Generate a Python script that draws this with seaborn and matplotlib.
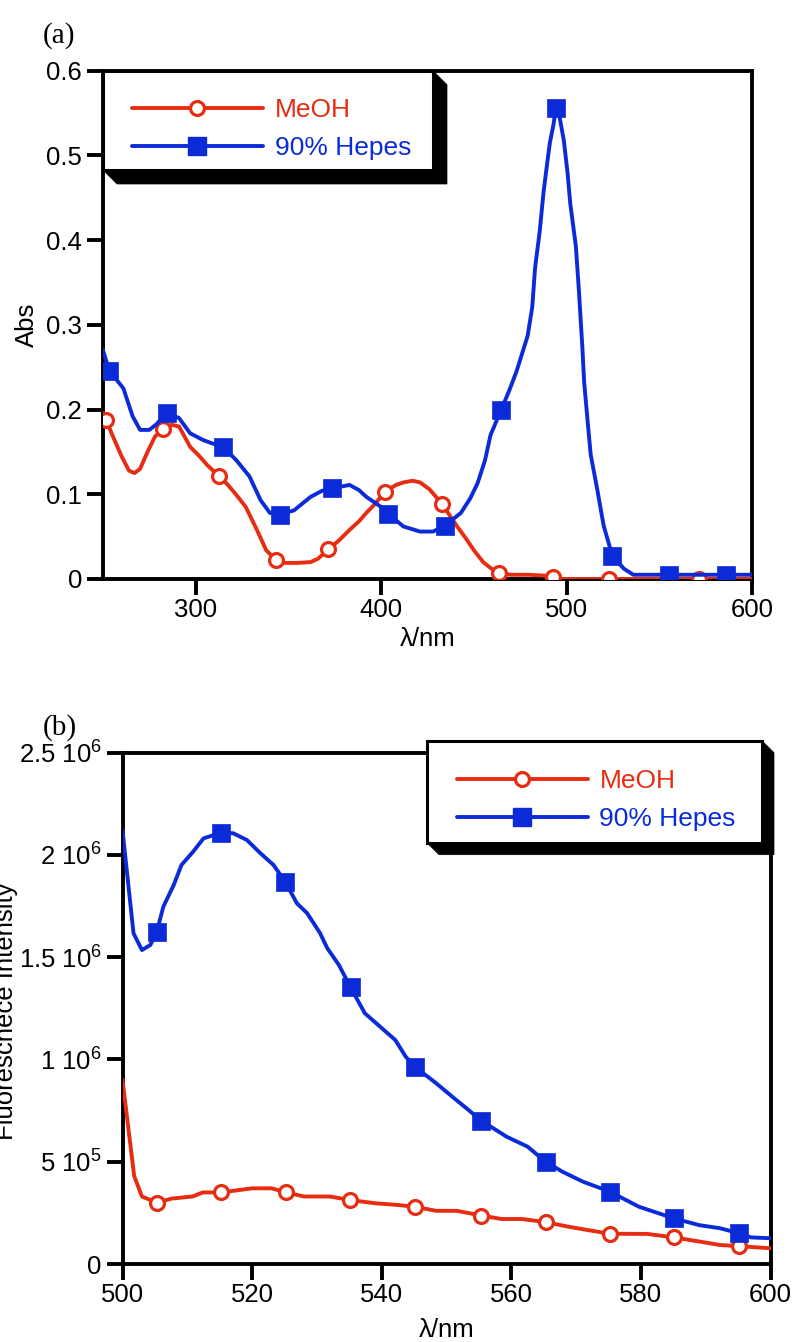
import numpy as np
import matplotlib
matplotlib.use("Agg")
import matplotlib.pyplot as plt
from matplotlib.lines import Line2D
from matplotlib.patches import Polygon, Rectangle
import seaborn as sns

# ---------------- (a) absorption spectra ----------------
abs_meoh_wl = [250.0, 251.7, 255, 260, 264, 267, 270, 274, 278, 282.2, 287, 291,
               297, 302, 306, 312.6, 317, 322, 327, 333, 338, 343.4, 348, 355,
               362, 366, 371.5, 377, 383, 388, 392, 396, 402.3, 408, 412, 417,
               421, 426, 432.8, 437, 441, 446, 450, 455, 459, 463.3, 470, 480,
               488, 492.6, 497, 510, 522.8, 540, 571.4, 600]
abs_meoh_val = [0.196, 0.188, 0.170, 0.145, 0.128, 0.125, 0.130, 0.150, 0.168,
                0.177, 0.182, 0.180, 0.156, 0.145, 0.135, 0.121, 0.112, 0.099,
                0.085, 0.058, 0.034, 0.022, 0.019, 0.019, 0.020, 0.024, 0.035,
                0.045, 0.058, 0.068, 0.078, 0.087, 0.103, 0.111, 0.114, 0.116,
                0.114, 0.106, 0.089, 0.075, 0.062, 0.047, 0.034, 0.020, 0.013,
                0.007, 0.005, 0.005, 0.004, 0.002, 0.0, 0.0, 0.0, 0.0, 0.0, 0.0]
abs_meoh_marks = [251.7, 282.2, 312.6, 343.4, 371.5, 402.3, 432.8, 463.3,
                  492.6, 522.8, 571.4]

abs_hepes_wl = [250.0, 253.5, 257, 261, 264, 266, 270, 275, 279, 284.4, 291,
                297, 304, 309, 314.7, 322, 329, 335, 340, 345.3, 353, 362, 368,
                373.3, 383, 388, 392, 400, 403.8, 412, 421, 428, 434.4, 443,
                448, 452, 456, 459, 464.8, 469, 473, 479, 481.5, 483, 485.5,
                487.5, 489.5, 491, 493, 494.2, 496, 498.5, 500.5, 502, 505,
                506.6, 508.5, 509.5, 511.2, 513, 516.6, 520, 524.7, 531, 536,
                545, 555, 570, 586, 600]
abs_hepes_val = [0.270, 0.245, 0.236, 0.225, 0.205, 0.192, 0.176, 0.176, 0.183,
                 0.196, 0.190, 0.172, 0.164, 0.160, 0.156, 0.140, 0.121, 0.093,
                 0.078, 0.076, 0.081, 0.097, 0.104, 0.107, 0.111, 0.105, 0.097,
                 0.085, 0.077, 0.062, 0.056, 0.056, 0.063, 0.078, 0.095, 0.113,
                 0.140, 0.170, 0.200, 0.222, 0.245, 0.287, 0.321, 0.367, 0.410,
                 0.455, 0.490, 0.515, 0.537, 0.556, 0.548, 0.518, 0.480, 0.443,
                 0.393, 0.342, 0.274, 0.232, 0.190, 0.147, 0.105, 0.063, 0.027,
                 0.012, 0.005, 0.005, 0.005, 0.005, 0.005, 0.005]
abs_hepes_marks = [253.5, 284.4, 314.7, 345.3, 373.3, 403.8, 434.4, 464.8,
                   494.2, 524.7, 555, 586]

abs_xticks = [300, 400, 500, 600]
abs_xticklabels = ["300", "400", "500", "600"]
abs_yticks = [0, 0.1, 0.2, 0.3, 0.4, 0.5, 0.6]
abs_yticklabels = ["0", "0.1", "0.2", "0.3", "0.4", "0.5", "0.6"]

# ---------------- (b) fluorescence spectra ----------------
fl_meoh_wl = [500.0, 501.8, 503, 505.3, 507.6, 510.8, 512.4, 515.2, 520, 523,
              525.3, 528, 532, 535.1, 539, 542, 545.1, 548.4, 551.6, 555.4,
              558.5, 561.6, 565.3, 568.7, 571.8, 575.2, 581, 585.1, 589, 592.2,
              595.1, 600]
fl_meoh_val = [0.90e6, 0.43e6, 0.33e6, 0.30e6, 0.32e6, 0.33e6, 0.35e6, 0.35e6,
               0.37e6, 0.37e6, 0.35e6, 0.33e6, 0.33e6, 0.313e6, 0.297e6,
               0.29e6, 0.28e6, 0.26e6, 0.26e6, 0.237e6, 0.22e6, 0.22e6,
               0.205e6, 0.183e6, 0.166e6, 0.148e6, 0.147e6, 0.13e6, 0.11e6,
               0.093e6, 0.087e6, 0.077e6]
fl_meoh_marks = [505.3, 515.2, 525.3, 535.1, 545.1, 555.4, 565.3, 575.2,
                 585.1, 595.1]

fl_hepes_wl = [500.0, 501.7, 503, 504.3, 505.3, 506.3, 507.9, 509.1, 510.9,
               512.5, 515.2, 517.1, 519.2, 521.3, 523.3, 525.1, 526.9, 528.5,
               530.5, 531.6, 533.4, 535.2, 537.4, 542.1, 543.7, 545.1, 548.4,
               551.5, 553.1, 555.4, 559.3, 562.5, 565.3, 567.9, 571.1, 575.2,
               579.7, 585.1, 589, 592.2, 595.2, 597, 600]
fl_hepes_val = [2.12e6, 1.617e6, 1.535e6, 1.56e6, 1.625e6, 1.747e6, 1.853e6,
                1.951e6, 2.016e6, 2.081e6, 2.109e6, 2.106e6, 2.073e6, 2.008e6,
                1.951e6, 1.87e6, 1.764e6, 1.715e6, 1.617e6, 1.544e6, 1.462e6,
                1.352e6, 1.226e6, 1.095e6, 1.014e6, 0.965e6, 0.884e6, 0.802e6,
                0.761e6, 0.70e6, 0.622e6, 0.574e6, 0.50e6, 0.451e6, 0.402e6,
                0.354e6, 0.28e6, 0.223e6, 0.19e6, 0.175e6, 0.15e6, 0.13e6,
                0.126e6]
fl_hepes_marks = [505.3, 515.2, 525.1, 535.2, 545.1, 555.4, 565.3, 575.2,
                  585.1, 595.2]

fl_xticks = [500, 520, 540, 560, 580, 600]
fl_xticklabels = ["500", "520", "540", "560", "580", "600"]
fl_yticks = [0, 5e5, 1e6, 1.5e6, 2e6, 2.5e6]
fl_yticklabels = ["0", "5 10$^{5}$", "1 10$^{6}$", "1.5 10$^{6}$",
                  "2 10$^{6}$", "2.5 10$^{6}$"]

series_labels = ["MeOH", "90% Hepes"]
RED = "#E62D12"
BLUE = "#0B2BD8"

# ---------------- style ----------------
sns.set_style("ticks", rc={"axes.edgecolor": "black", "xtick.color": "black",
                           "ytick.color": "black", "text.color": "black",
                           "axes.labelcolor": "black"})
plt.rcParams["font.family"] = ["Liberation Sans", "DejaVu Sans"]
plt.rcParams["mathtext.fontset"] = "custom"
plt.rcParams["mathtext.rm"] = "Liberation Sans"
plt.rcParams["mathtext.it"] = "Liberation Sans:italic"
plt.rcParams["mathtext.bf"] = "Liberation Sans:bold"

W, H = 793, 1342
fig = plt.figure(figsize=(W / 100, H / 100), dpi=100)


def px(x, y):
    """Figure pixel position (origin top-left) -> figure fraction."""
    return (x / W, 1 - y / H)


def axes_at(left, top, right, bottom):
    return fig.add_axes([left / W, 1 - bottom / H, (right - left) / W,
                         (bottom - top) / H])


LW = 2.8
TICK_FS = 18.5
LABEL_FS = 18.5
LEGEND_FS = 19


def style_axes(ax):
    for sp in ax.spines.values():
        sp.set_visible(True)
        sp.set_linewidth(LW)
        sp.set_color("black")
    ax.tick_params(axis="both", direction="out", length=11.5, width=LW,
                   labelsize=TICK_FS, colors="black")
    ax.tick_params(axis="x", pad=2.5)
    ax.tick_params(axis="y", pad=3.5)
    ax.tick_params(top=False, right=False)


def draw_series(ax, wl, val, marks, color, marker):
    idx = [int(np.argmin(np.abs(np.asarray(wl) - m))) for m in marks]
    if marker == "o":
        mkw = dict(marker="o", markersize=10, markerfacecolor="white",
                   markeredgecolor=color, markeredgewidth=2.3)
    else:
        mkw = dict(marker="s", markersize=13.5, markerfacecolor=color,
                   markeredgecolor=color, markeredgewidth=0.5)
    sns.lineplot(x=wl, y=val, ax=ax, color=color, linewidth=LW,
                 estimator=None, sort=False, legend=False,
                 markevery=idx, zorder=3, **mkw)


def legend_box(ax, L, T, R, B, d):
    shadow = Polygon([px(R, T), px(R + d, T + d), px(R + d, B + d),
                      px(L + d, B + d), px(L, B)], closed=True,
                     transform=fig.transFigure, facecolor="black",
                     edgecolor="black", lw=0.5, zorder=4, clip_on=False)
    box = Rectangle(px(L, B), (R - L) / W, (B - T) / H,
                    transform=fig.transFigure, facecolor="white",
                    edgecolor="black", lw=2.2, zorder=4.1, clip_on=False)
    ax.add_patch(shadow)
    ax.add_patch(box)


def legend_entries(ax, left, top):
    handles = [
        Line2D([], [], color=RED, lw=LW, marker="o", markersize=10,
               markerfacecolor="white", markeredgecolor=RED,
               markeredgewidth=2.3),
        Line2D([], [], color=BLUE, lw=LW, marker="s", markersize=13.5,
               markerfacecolor=BLUE, markeredgecolor=BLUE),
    ]
    leg = ax.legend(handles, series_labels, loc="upper left",
                    bbox_to_anchor=px(left, top),
                    bbox_transform=fig.transFigure, frameon=False,
                    fontsize=LEGEND_FS, handlelength=4.96, handletextpad=0.45,
                    labelspacing=0.53, borderpad=0, borderaxespad=0,
                    numpoints=1, labelcolor="linecolor")
    leg.set_zorder(6)


# ---------------- panel (a) ----------------
ax1 = axes_at(103, 70.7, 752, 579)
draw_series(ax1, abs_meoh_wl, abs_meoh_val, abs_meoh_marks, RED, "o")
draw_series(ax1, abs_hepes_wl, abs_hepes_val, abs_hepes_marks, BLUE, "s")
ax1.set_xlim(250, 600)
ax1.set_ylim(0, 0.6)
ax1.set_xticks(abs_xticks, abs_xticklabels)
ax1.set_yticks(abs_yticks, abs_yticklabels)
style_axes(ax1)
ax1.set_xlabel("λ/nm", fontsize=LABEL_FS)
ax1.set_ylabel("Abs", fontsize=LABEL_FS)
ax1.xaxis.set_label_coords(*px(427.5, 627), transform=fig.transFigure)
ax1.yaxis.set_label_coords(*px(39, 325), transform=fig.transFigure)
legend_box(ax1, 103, 70.7, 433, 170, 14)
legend_entries(ax1, 132, 98)

# ---------------- panel (b) ----------------
ax2 = axes_at(122.5, 752.7, 770.5, 1264)
draw_series(ax2, fl_meoh_wl, fl_meoh_val, fl_meoh_marks, RED, "o")
draw_series(ax2, fl_hepes_wl, fl_hepes_val, fl_hepes_marks, BLUE, "s")
ax2.set_xlim(500, 600)
ax2.set_ylim(0, 2.5e6)
ax2.set_xticks(fl_xticks, fl_xticklabels)
ax2.set_yticks(fl_yticks, fl_yticklabels)
style_axes(ax2)
ax2.set_xlabel("λ/nm", fontsize=LABEL_FS)
ax2.set_ylabel("Fluorescnece Intensity", fontsize=LABEL_FS)
ax2.xaxis.set_label_coords(*px(446.5, 1318), transform=fig.transFigure)
ax2.yaxis.set_label_coords(*px(18, 1011), transform=fig.transFigure)
legend_box(ax2, 427, 740.7, 762, 842.7, 12)
legend_entries(ax2, 456.7, 769.5)

# panel tags
fig.text(*px(43, 36), "(a)", family="Liberation Serif", fontsize=21,
         ha="left", va="center")
fig.text(*px(43, 728), "(b)", family="Liberation Serif", fontsize=21,
         ha="left", va="center")

fig.savefig("out.png", dpi=100)
